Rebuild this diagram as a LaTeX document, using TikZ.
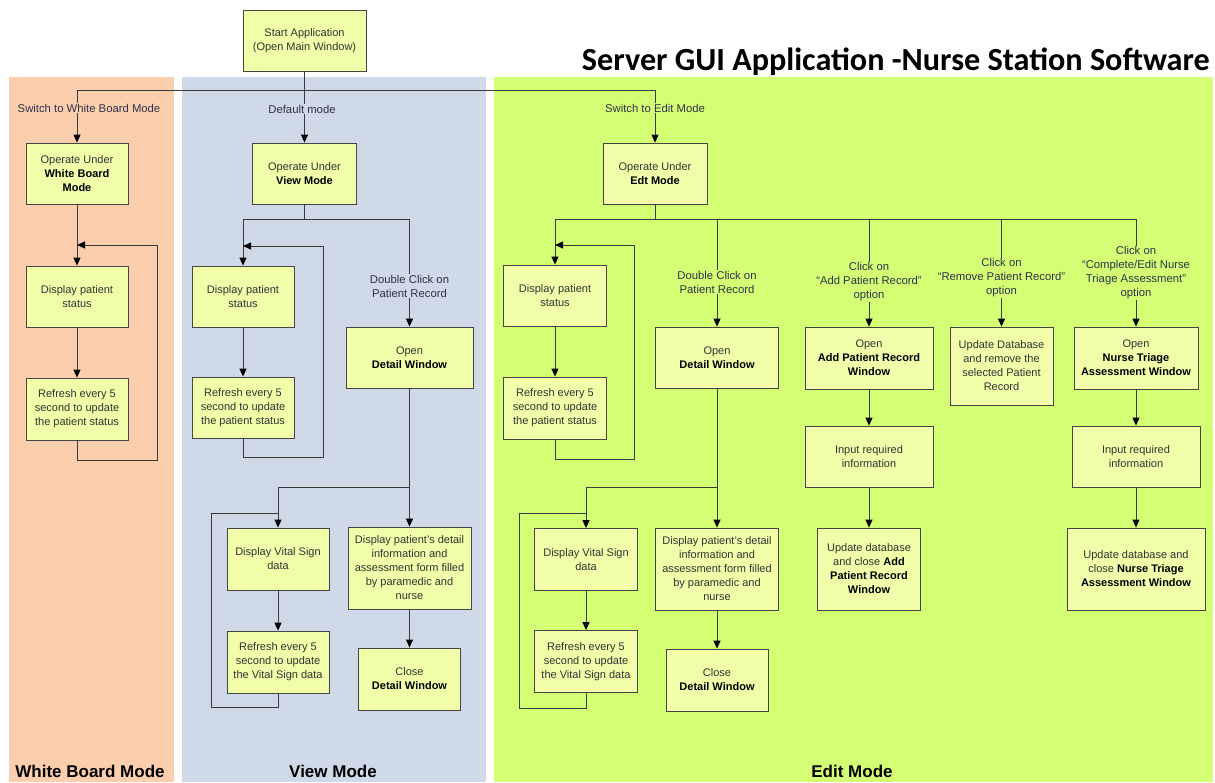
\documentclass[tikz,border=0pt]{standalone}
\usepackage{fontspec}
\setmainfont{Liberation Sans}
\newfontfamily\headfont{Carlito}
\usetikzlibrary{arrows.meta}

\definecolor{wbfill}{HTML}{FBCFAE}
\definecolor{viewfill}{HTML}{CFD9E8}
\definecolor{editfill}{HTML}{D4FF74}
\definecolor{boxfill}{HTML}{F1FDA9}
\definecolor{boxline}{HTML}{454545}
\definecolor{linecol}{HTML}{3A3A3A}
\definecolor{boxtext}{HTML}{333333}
\definecolor{labeltext}{HTML}{30304A}

\newcommand{\boldpart}[1]{{\color{black}\bfseries #1}}

\begin{document}
\begin{tikzpicture}[x=1pt,y=-1pt,
  box/.style={draw=boxline,fill=boxfill,line width=0.85pt,inner sep=0pt,
    align=center,text=boxtext,font=\fontsize{11}{14}\selectfont},
  link/.style={draw=linecol,line width=0.85pt},
  arr/.style={link,-{Triangle[length=8pt,width=7pt,color=black]}},
  lbl/.style={fill=#1,inner sep=1pt,align=center,text=labeltext,
    font=\fontsize{11.3}{14}\selectfont},
  lanelbl/.style={font=\fontsize{17}{20}\selectfont\bfseries,text=black},
]
\useasboundingbox (0,0) rectangle (1215,782);
\fill[white] (0,0) rectangle (1215,782);

% swim lanes
\fill[wbfill]   (9,77)   rectangle (174,782);
\fill[viewfill] (182,77) rectangle (486,782);
\fill[editfill] (494,77) rectangle (1213,782);

\node[anchor=base east,inner sep=0pt,font=\headfont\bfseries\fontsize{32.2}{34}\selectfont]
  (title) at (1210,70) {Server GUI Application -Nurse Station Software};

\node[lanelbl] (wblane)   at (90,771)  {White Board Mode};
\node[lanelbl] (viewlane) at (333,771) {View Mode};
\node[lanelbl] (editlane) at (852,771) {Edit Mode};

% start
\node[box,minimum width=123pt,minimum height=61pt] (start) at (304.5,40.5)
  {Start Application\\(Open Main Window)};

% mode entry boxes
\node[box,minimum width=102pt,minimum height=61pt] (wbop) at (77,173.5)
  {Operate Under\\\boldpart{White Board}\\\boldpart{Mode}};
\node[box,minimum width=104pt,minimum height=61pt] (vop) at (304.5,173.5)
  {Operate Under\\\boldpart{View Mode}};
\node[box,minimum width=104pt,minimum height=61pt] (eop) at (655,173.5)
  {Operate Under\\\boldpart{Edt Mode}};

% white board mode
\node[box,minimum width=102pt,minimum height=61pt] (wbdisp) at (77,296.5)
  {Display patient\\status};
\node[box,minimum width=102pt,minimum height=62pt] (wbref) at (77,409)
  {Refresh every 5\\second to update\\the patient status};

% view mode
\node[box,minimum width=102pt,minimum height=61pt] (vdisp) at (243,296.5)
  {Display patient\\status};
\node[box,minimum width=102pt,minimum height=61pt] (vref) at (243,407.5)
  {Refresh every 5\\second to update\\the patient status};
\node[box,minimum width=127pt,minimum height=61pt] (vopen) at (409.5,357.5)
  {Open\\\boldpart{Detail Window}};
\node[box,minimum width=102pt,minimum height=62pt] (vvital) at (278,559)
  {Display Vital Sign\\data};
\node[box,minimum width=102pt,minimum height=62pt] (vvref) at (278,662)
  {Refresh every 5\\second to update\\the Vital Sign data};
\node[box,minimum width=123pt,minimum height=82pt] (vdetail) at (409.5,568)
  {Display patient's detail\\information and\\assessment form filled\\by paramedic and\\nurse};
\node[box,minimum width=102pt,minimum height=62pt] (vclose) at (409.5,679)
  {Close\\\boldpart{Detail Window}};

% edit mode
\node[box,minimum width=103pt,minimum height=61pt] (edisp) at (555,295.5)
  {Display patient\\status};
\node[box,minimum width=103pt,minimum height=62pt] (eref) at (555,408)
  {Refresh every 5\\second to update\\the patient status};
\node[box,minimum width=123pt,minimum height=61pt] (eopen) at (717,357.5)
  {Open\\\boldpart{Detail Window}};
\node[box,minimum width=103pt,minimum height=62pt] (evital) at (586,559.5)
  {Display Vital Sign\\data};
\node[box,minimum width=103pt,minimum height=62pt] (evref) at (586,661.5)
  {Refresh every 5\\second to update\\the Vital Sign data};
\node[box,minimum width=123pt,minimum height=82pt] (edetail) at (717,569)
  {Display patient's detail\\information and\\assessment form filled\\by paramedic and\\nurse};
\node[box,minimum width=102pt,minimum height=62pt] (eclose) at (717,680)
  {Close\\\boldpart{Detail Window}};
\node[box,minimum width=128pt,minimum height=62pt] (eadd) at (869,358)
  {Open\\\boldpart{Add Patient Record}\\\boldpart{Window}};
\node[box,minimum width=128pt,minimum height=61pt] (einput1) at (869,456.5)
  {Input required\\information};
\node[box,minimum width=103pt,minimum height=82pt] (eupd1) at (869,569)
  {Update database\\and close \boldpart{Add}\\\boldpart{Patient Record}\\\boldpart{Window}};
\node[box,minimum width=103pt,minimum height=78pt] (eremove) at (1001.5,366)
  {Update Database\\and remove the\\selected Patient\\Record};
\node[box,minimum width=124pt,minimum height=62pt] (enurse) at (1136,358)
  {Open\\\boldpart{Nurse Triage}\\\boldpart{Assessment Window}};
\node[box,minimum width=128pt,minimum height=61pt] (einput2) at (1136,456.5)
  {Input required\\information};
\node[box,minimum width=138pt,minimum height=82pt] (eupd2) at (1136,569)
  {Update database and\\close \boldpart{Nurse Triage}\\\boldpart{Assessment Window}};

% junction points
\coordinate (top)    at (304.5,90);
\coordinate (wbjoin) at (77,245);
\coordinate (wbloop) at (157,460);
\coordinate (vsplit) at (304.5,219);
\coordinate (vjoin)  at (243,246);
\coordinate (vloop)  at (323,457);
\coordinate (vsplit2) at (409.5,487);
\coordinate (vvjoin) at (278,513);
\coordinate (vvloop) at (211,707);
\coordinate (esplit) at (655,219);
\coordinate (ejoin)  at (555,245);
\coordinate (eloop)  at (634,459);
\coordinate (esplit2) at (717,487);
\coordinate (evjoin) at (586,513);
\coordinate (evloop) at (519,708);

% top level
\draw[link] (start.south) -- (top);
\draw[arr] (top) -| (wbop.north);
\draw[arr] (top) -- (vop.north);
\draw[arr] (top) -| (eop.north);

% white board flow
\draw[arr] (wbop) -- (wbdisp);
\draw[arr] (wbdisp) -- (wbref);
\draw[arr] (wbref.south) |- (wbloop) |- (wbjoin);

% view flow
\draw[link] (vop.south) -- (vsplit);
\draw[arr] (vsplit) -| (vdisp.north);
\draw[arr] (vsplit) -| (vopen.north);
\draw[arr] (vdisp) -- (vref);
\draw[arr] (vref.south) |- (vloop) |- (vjoin);
\draw[link] (vopen.south) -- (vsplit2);
\draw[arr] (vsplit2) -| (vvital.north);
\draw[arr] (vsplit2) -- (vdetail.north);
\draw[arr] (vvital) -- (vvref);
\draw[link] (vvref.south) |- (vvloop) |- (vvjoin);
\draw[arr] (vdetail) -- (vclose);

% edit flow
\draw[link] (eop.south) -- (esplit);
\draw[arr] (esplit) -| (edisp.north);
\draw[arr] (esplit) -| (eopen.north);
\draw[arr] (esplit) -| (eadd.north);
\draw[arr] (esplit) -| (eremove.north);
\draw[arr] (esplit) -| (enurse.north);
\draw[arr] (edisp) -- (eref);
\draw[arr] (eref.south) |- (eloop) |- (ejoin);
\draw[link] (eopen.south) -- (esplit2);
\draw[arr] (esplit2) -| (evital.north);
\draw[arr] (esplit2) -- (edetail.north);
\draw[arr] (evital) -- (evref);
\draw[link] (evref.south) |- (evloop) |- (evjoin);
\draw[arr] (edetail) -- (eclose);
\draw[arr] (eadd) -- (einput1);
\draw[arr] (einput1) -- (eupd1);
\draw[arr] (enurse) -- (einput2);
\draw[arr] (einput2) -- (eupd2);

% connector labels
\node[lbl=wbfill]   (lwb)   at (89,108)    {Switch to White Board Mode};
\node[lbl=viewfill] (ldef)  at (302,109)   {Default mode};
\node[lbl=editfill] (ledit) at (655,108)   {Switch to Edit Mode};
\node[lbl=viewfill] (lvdbl) at (409.5,286) {Double Click on\\Patient Record};
\node[lbl=editfill] (ledbl) at (717,282)   {Double Click on\\Patient Record};
\node[lbl=editfill] (ladd)  at (869,282)   {Click on\\“Add Patient Record”\\option};
\node[lbl=editfill] (lrem)  at (1001.5,278) {Click on\\“Remove Patient Record”\\option};
\node[lbl=editfill] (lnur)  at (1136,273)  {Click on\\“Complete/Edit Nurse\\Triage Assessment”\\option};
\end{tikzpicture}
\end{document}
